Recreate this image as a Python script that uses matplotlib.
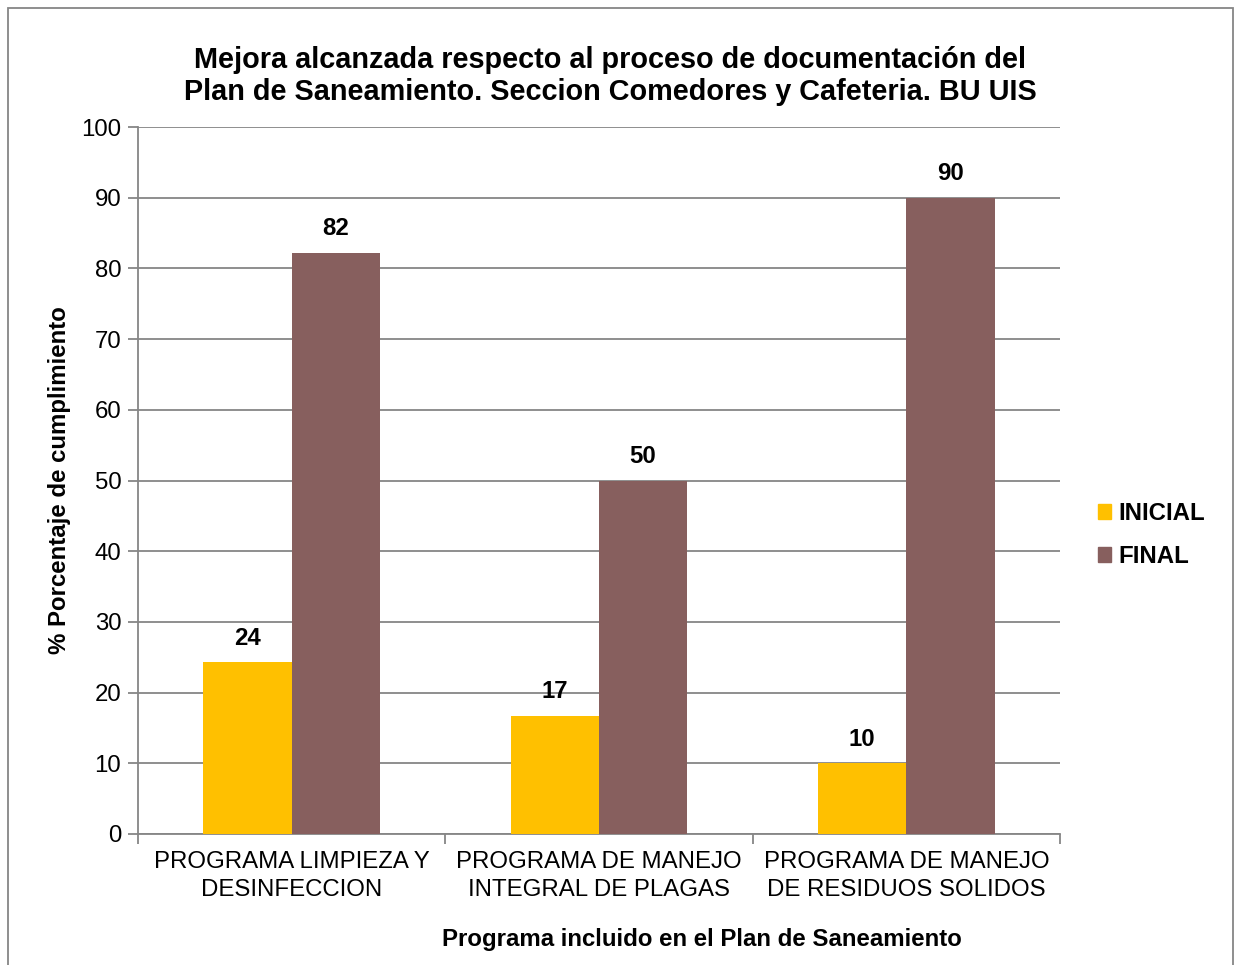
import matplotlib
matplotlib.use("Agg")
import matplotlib.pyplot as plt
import numpy as np
from matplotlib.patches import Rectangle, Patch

plt.rcParams['font.family'] = ['Liberation Sans', 'DejaVu Sans']

categories = ["PROGRAMA LIMPIEZA Y\nDESINFECCION",
              "PROGRAMA DE MANEJO\nINTEGRAL DE PLAGAS",
              "PROGRAMA DE MANEJO\nDE RESIDUOS SOLIDOS"]
inicial = [24.3, 16.7, 10.0]
final = [82.2, 50.0, 90.0]
inicial_labels = ["24", "17", "10"]
final_labels = ["82", "50", "90"]
series_names = ["INICIAL", "FINAL"]
colors = ["#FFC000", "#875F5E"]

FS = 17.3

fig = plt.figure(figsize=(12.36, 9.65), dpi=100)
ax = fig.add_axes([138/1236, 1-834/965, 922/1236, 707/965])

x = np.arange(len(categories))
w = 0.287
b1 = ax.bar(x - w/2, inicial, w, color=colors[0], zorder=3)
b2 = ax.bar(x + w/2, final, w, color=colors[1], zorder=3)

for rect, lab in zip(b1, inicial_labels):
    ax.annotate(lab, (rect.get_x() + rect.get_width()/2, rect.get_height()),
                xytext=(0, 9), textcoords="offset points", ha="center", va="bottom",
                fontsize=FS, fontweight="bold")
for rect, lab in zip(b2, final_labels):
    ax.annotate(lab, (rect.get_x() + rect.get_width()/2, rect.get_height()),
                xytext=(0, 9), textcoords="offset points", ha="center", va="bottom",
                fontsize=FS, fontweight="bold")

ax.set_xlim(-0.5, 2.5)
ax.set_ylim(0, 100)
ax.set_yticks(np.arange(0, 101, 10))
ax.yaxis.grid(True, color="#868686", linewidth=1.3, zorder=0)
ax.set_axisbelow(True)

for s in ["top", "right"]:
    ax.spines[s].set_visible(False)
ax.spines["left"].set_color("#868686")
ax.spines["bottom"].set_color("#868686")
ax.spines["left"].set_linewidth(1.3)
ax.spines["bottom"].set_linewidth(1.3)

ax.set_xticks(x)
ax.set_xticklabels(categories, fontsize=FS, linespacing=1.4)
ax.tick_params(axis="x", length=0, pad=12)
ax.set_xticks([-0.5, 0.5, 1.5, 2.5], minor=True)
ax.tick_params(axis="x", which="minor", length=7, width=1.3, color="#868686")
ax.tick_params(axis="y", length=7, width=1.3, color="#868686", labelsize=FS, pad=5)

ax.set_ylabel("% Porcentaje de cumplimiento", fontsize=FS, fontweight="bold")
ax.yaxis.set_label_coords(-67/922, 0.5)
ax.set_xlabel("Programa incluido en el Plan de Saneamiento", fontsize=FS,
              fontweight="bold")
ax.xaxis.set_label_coords((702-138)/922, -(928-834)/707)

fig.text(610/1236, 1-76/965,
         "Mejora alcanzada respecto al proceso de documentación del\nPlan de Saneamiento. Seccion Comedores y Cafeteria. BU UIS",
         ha="center", va="center", fontsize=20.8, fontweight="bold", linespacing=1.15)

handles = [Patch(color=colors[0]), Patch(color=colors[1])]
leg = fig.legend(handles, series_names, loc="center left",
                 bbox_to_anchor=(1076/1236, 1-535/965), frameon=False,
                 prop={"size": FS, "weight": "bold"},
                 handlelength=0.55, handleheight=0.55, handletextpad=0.3,
                 labelspacing=0.85)

fig.patches.append(Rectangle((8/1236, -0.01), 1225/1236, 1-8/965 + 0.01,
                             transform=fig.transFigure, fill=False,
                             edgecolor="#868686", linewidth=1.3))

fig.savefig("out.png", dpi=100)
